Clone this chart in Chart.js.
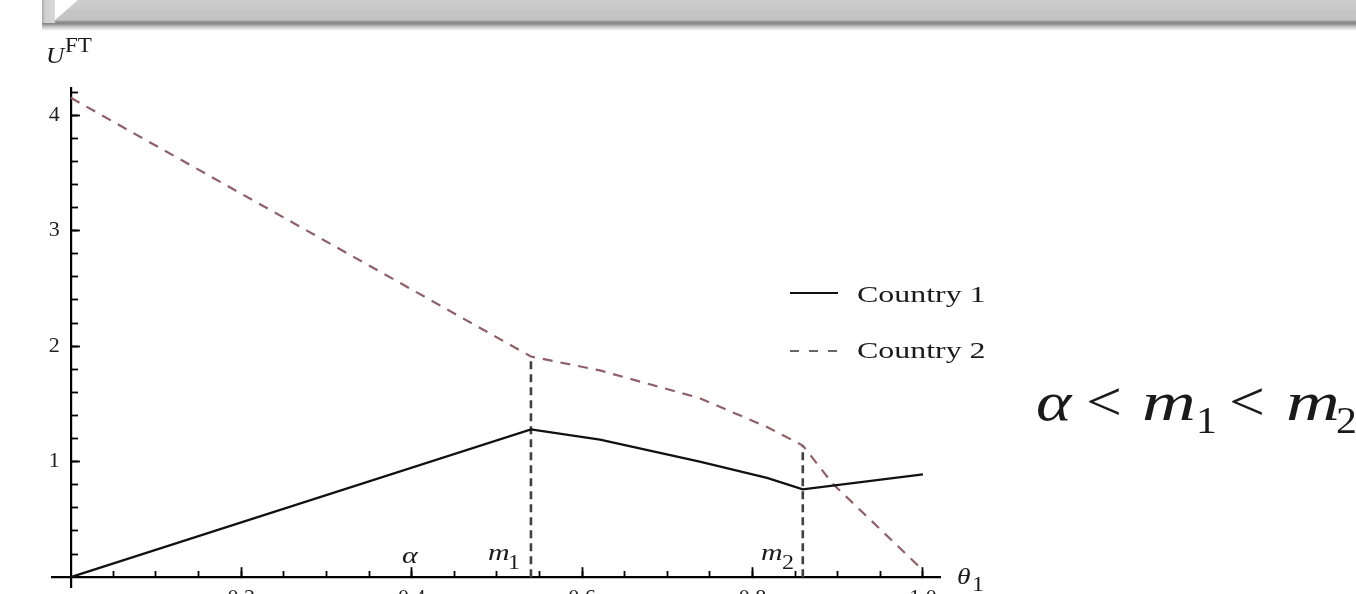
<!DOCTYPE html>
<html>
<head>
<meta charset="utf-8">
<script src="https://cdn.jsdelivr.net/npm/chart.js@4.4.1/dist/chart.umd.min.js"></script>
<style>
html,body{margin:0;padding:0;background:#fff;overflow:hidden;width:1356px;height:594px;}
#wrap{position:relative;width:1356px;height:594px;overflow:hidden;background:#fff;}
#c{position:absolute;left:0;top:0;}
.abs{position:absolute;}
.bar{left:42px;top:0;width:1314px;height:31px;
  background:linear-gradient(to bottom,#cdcdcd 0px,#cacaca 9px,#c5c5c5 10px,#c3c3c3 20px,#a0a0a0 21px,#858585 23px,#8c8c8c 24px,#b9b9b9 26px,#e4e4e4 29px,#ffffff 31px);}
.bevel{left:42px;top:0;width:13px;height:23px;background:linear-gradient(to right,#a9a9a9 0px,#cfcfcf 3px,#d9d9d9 13px);}
.tri{left:55px;top:0;width:23px;height:20px;background:#fff;clip-path:polygon(0 0,100% 0,0 100%);}
.t{position:absolute;white-space:nowrap;line-height:1;font-family:"Liberation Serif","Times New Roman",serif;color:#1a1a1a;transform-origin:0 0;}
.lg1{left:790px;top:292px;width:48px;height:2px;background:#111;}
.lg2{left:790px;top:350px;width:48px;height:2px;background:repeating-linear-gradient(to right,#666 0px,#666 9px,transparent 9px,transparent 19px);}
</style>
</head>
<body>
<div id="wrap">
  <canvas id="c" width="1356" height="620"></canvas>
  <div class="abs bar"></div>
  <div class="abs bevel"></div>
  <div class="abs tri"></div>
  <div class="abs lg1"></div>
  <div class="abs lg2"></div>
</div>
<script>
// ---- data ----
const country1X = [0, 0.540, 0.621, 0.738, 0.817, 0.859, 1.0];
const country1Y = [0, 1.28, 1.19, 1.00, 0.86, 0.76, 0.89];
const country2X = [0, 0.540, 0.621, 0.738, 0.817, 0.859, 0.894, 1.0];
const country2Y = [4.15, 1.91, 1.79, 1.55, 1.30, 1.14, 0.81, 0.06];
const markerX = [0.540, 0.859];
const markerTopY = [1.91, 1.14];
const seriesNames = ['Country 1', 'Country 2'];
const xMajorTicks = [0.2, 0.4, 0.6, 0.8, 1.0];
const xTickLabels = ['0.2', '0.4', '0.6', '0.8', '1.0'];
const yMajorTicks = [1, 2, 3, 4];
const yTickLabels = ['1', '2', '3', '4'];
const xMinorStep = 0.05, yMinorStep = 0.2;

const pts = (xs, ys) => xs.map((x, i) => ({x: x, y: ys[i]}));
const steps = (step, lo, hi) => { const a = []; for (let k = Math.ceil(lo / step); k * step <= hi + 1e-9; k++) a.push(+(k * step).toFixed(4)); return a; };
const setTicks = vals => scale => { scale.ticks = vals.map(v => ({value: v})); };

const datasets = [
  {label: seriesNames[0], data: pts(country1X, country1Y), borderColor: '#111', borderWidth: 2.3,
   pointRadius: 0, fill: false, tension: 0},
  {label: seriesNames[1], data: pts(country2X, country2Y), borderColor: '#8f5f6a', borderWidth: 2.2,
   borderDash: [10, 8], pointRadius: 0, fill: false, tension: 0}
];
markerX.forEach((mx, i) => {
  datasets.push({label: 'm' + (i + 1), data: [{x: mx, y: 0}, {x: mx, y: markerTopY[i]}],
    borderColor: '#404040', borderWidth: 2.6, borderDash: [8, 5], pointRadius: 0, fill: false});
});

const XMIN = -0.022, XMAX = 1.02, YMIN = -0.085, YMAX = 4.235;
const tickFont = {family: 'Liberation Serif', size: 22};

new Chart(document.getElementById('c').getContext('2d'), {
  type: 'line',
  data: {datasets: datasets},
  options: {
    responsive: false, animation: false, events: [],
    layout: {padding: {left: 52, right: 416, top: 88, bottom: 33}},
    plugins: {legend: {display: false}, tooltip: {enabled: false}},
    scales: {
      x: {type: 'linear', axis: 'x', min: XMIN, max: XMAX, bounds: 'data', position: {y: 0},
        afterBuildTicks: setTicks(xMajorTicks),
        border: {display: true, color: '#000', width: 2.2},
        grid: {display: true, drawOnChartArea: false, drawTicks: true, tickLength: -11, tickColor: '#000', tickWidth: 1.8},
        ticks: {padding: 19, color: '#222', font: tickFont, maxRotation: 0, autoSkip: false,
          callback: (v, i) => xTickLabels[i]}},
      x2: {type: 'linear', axis: 'x', min: XMIN, max: XMAX, bounds: 'data', position: {y: 0},
        afterBuildTicks: setTicks(steps(xMinorStep, 0.0001, 1.0)),
        border: {display: false},
        grid: {display: true, drawOnChartArea: false, drawTicks: true, tickLength: -6, tickColor: '#000', tickWidth: 1.8},
        ticks: {display: false}},
      y: {type: 'linear', axis: 'y', min: YMIN, max: YMAX, bounds: 'data', position: {x: 0},
        afterBuildTicks: setTicks(yMajorTicks),
        border: {display: true, color: '#000', width: 2.2},
        grid: {display: true, drawOnChartArea: false, drawTicks: true, tickLength: -10, tickColor: '#000', tickWidth: 1.8},
        ticks: {padding: 10, color: '#222', font: tickFont, autoSkip: false,
          callback: (v, i) => yTickLabels[i] + '\u2002'}},
      y2: {type: 'linear', axis: 'y', min: YMIN, max: YMAX, bounds: 'data', position: {x: 0},
        afterBuildTicks: setTicks(steps(yMinorStep, 0.0001, 4.2)),
        border: {display: false},
        grid: {display: true, drawOnChartArea: false, drawTicks: true, tickLength: -7, tickColor: '#000', tickWidth: 1.8},
        ticks: {display: false}}
    }
  }
});

// ---- text annotations (position: left x, baseline y, size, italic, horizontal stretch) ----
const texts = [
  {t: 'U', x: 46, b: 63, s: 23, i: true, sx: 1.1},
  {t: 'FT', x: 65, b: 52, s: 20, i: false, sx: 1.15},
  {t: 'α', x: 402, b: 563, s: 23, i: true, sx: 1.3},
  {t: 'm', x: 488, b: 560, s: 23, i: true, sx: 1.3},
  {t: '1', x: 508, b: 569, s: 20, i: false, sx: 1.2},
  {t: 'm', x: 761, b: 560, s: 23, i: true, sx: 1.3},
  {t: '2', x: 782, b: 569, s: 20, i: false, sx: 1.2},
  {t: 'θ', x: 957, b: 584, s: 23, i: true, sx: 1.2},
  {t: '1', x: 972, b: 591, s: 20, i: false, sx: 1.2},
  {t: seriesNames[0], x: 857, b: 302, s: 24, i: false, sx: 1.33},
  {t: seriesNames[1], x: 857, b: 358, s: 24, i: false, sx: 1.33},
  {t: 'α', x: 1036, b: 420, s: 54, i: true, sx: 1.25},
  {t: '<', x: 1086, b: 420, s: 54, i: false, sx: 1.18},
  {t: 'm', x: 1142, b: 420, s: 54, i: true, sx: 1.38},
  {t: '1', x: 1196, b: 433, s: 38, i: false, sx: 1.1},
  {t: '<', x: 1229, b: 420, s: 54, i: false, sx: 1.18},
  {t: 'm', x: 1286, b: 420, s: 54, i: true, sx: 1.38},
  {t: '2', x: 1336, b: 433, s: 38, i: false, sx: 1.1}
];
const wrap = document.getElementById('wrap');
texts.forEach(o => {
  const el = document.createElement('div');
  el.className = 't';
  el.textContent = o.t;
  el.style.left = o.x + 'px';
  el.style.top = (o.b - 0.8375 * o.s) + 'px';
  el.style.fontSize = o.s + 'px';
  el.style.fontStyle = o.i ? 'italic' : 'normal';
  el.style.transform = 'scaleX(' + o.sx + ')';
  wrap.appendChild(el);
});
</script>
</body>
</html>
